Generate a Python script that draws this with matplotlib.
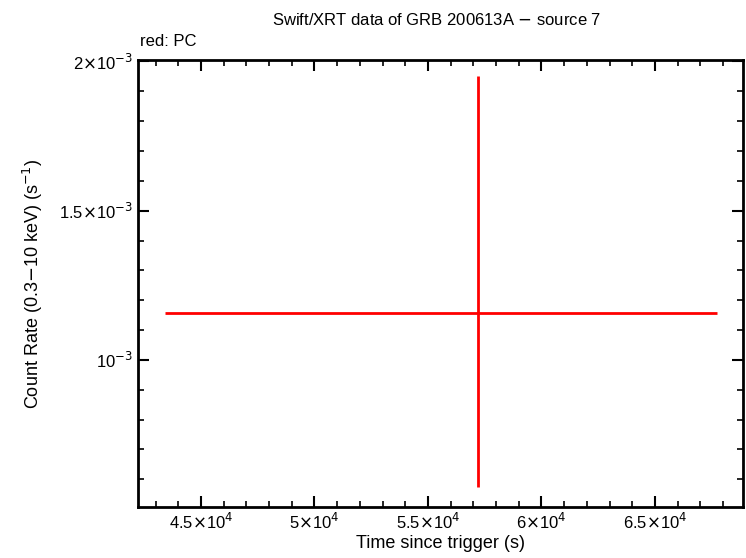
import matplotlib
matplotlib.use("Agg")
import matplotlib.pyplot as plt
from matplotlib.ticker import FixedLocator, FixedFormatter, AutoMinorLocator

plt.rcParams['font.family'] = ['Liberation Sans', 'DejaVu Sans']

x = [57181]
xerr_lo = [57181 - 43410]
xerr_hi = [67731 - 57181]
y = [1.158e-3]
yerr_lo = [1.158e-3 - 0.574e-3]
yerr_hi = [1.95e-3 - 1.158e-3]

xticks = [45000, 50000, 55000, 60000, 65000]
xlabels = [r"4.5$\times$10$^4$", r"5$\times$10$^4$", r"5.5$\times$10$^4$", r"6$\times$10$^4$", r"6.5$\times$10$^4$"]
yticks = [1e-3, 1.5e-3, 2e-3]
ylabels = [r"10$^{-3}$", r"1.5$\times$10$^{-3}$", r"2$\times$10$^{-3}$"]

fig = plt.figure(figsize=(7.46, 5.58), dpi=100)
ax = fig.add_axes([138/746, 1-507/558, (743-138)/746, (507-60)/558])
ax.errorbar(x, y, xerr=[xerr_lo, xerr_hi], yerr=[yerr_lo, yerr_hi], fmt='none', ecolor='red', elinewidth=2, capsize=0)
ax.set_xlim(42225, 68877)
ax.set_ylim(0.507e-3, 2.005e-3)
ax.xaxis.set_major_locator(FixedLocator(xticks))
ax.xaxis.set_major_formatter(FixedFormatter(xlabels))
ax.yaxis.set_major_locator(FixedLocator(yticks))
ax.yaxis.set_major_formatter(FixedFormatter(ylabels))
ax.xaxis.set_minor_locator(AutoMinorLocator(5))
ax.yaxis.set_minor_locator(AutoMinorLocator(5))
ax.tick_params(which='both', direction='in', top=True, right=True, labelsize=12)
ax.tick_params(which='major', length=8, width=1.5)
ax.tick_params(which='minor', length=4, width=1.2)
for s in ax.spines.values():
    s.set_linewidth(2)
ax.set_xlabel("Time since trigger (s)", fontsize=13, labelpad=2)
ax.set_ylabel(r"Count Rate (0.3$-$10 keV) (s$^{-1}$)", fontsize=13)
ax.yaxis.set_label_coords(-0.154, 0.5)
fig.text(437/746, 1-20/558, r"Swift/XRT data of GRB 200613A $-$ source 7", ha='center', va='center', fontsize=12)
fig.text(140/746, 1-42/558, "red: PC", ha='left', va='center', fontsize=12)
fig.savefig("out.png", dpi=100)
